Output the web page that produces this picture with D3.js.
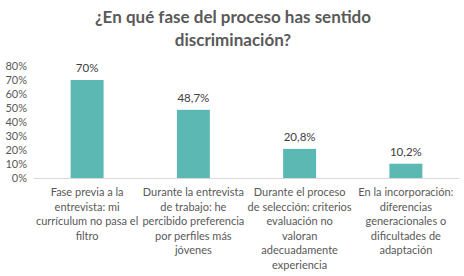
<!DOCTYPE html>
<html>
<head>
<meta charset="utf-8">
<script src="https://cdn.jsdelivr.net/npm/d3@7"></script>
<style>
  body { margin: 0; background: #fff; }
  svg { display: block; font-family: Lato, "Open Sans", sans-serif; }
</style>
</head>
<body>
<div id="chart"></div>
<script>
// data
const categories = ["Fase previa", "Durante la entrevista", "Durante el proceso", "En la incorporación"];
const values = [70, 48.7, 20.8, 10.2];
const valueLabels = ["70%", "48,7%", "20,8%", "10,2%"];
const labelLines = [
    ["Fase previa a la", "entrevista: mi", "currículum no pasa el", "filtro"],
    ["Durante la entrevista", "de trabajo: he", "percibido preferencia", "por perfiles más", "jóvenes"],
    ["Durante el proceso", "de selección: criterios", "evaluación  no", "valoran", "adecuadamente", "experiencia"],
    ["En la incorporación:", "diferencias", "generacionales o", "dificultades de", "adaptación"]
];
const yTicks = [0, 10, 20, 30, 40, 50, 60, 70, 80];
const titleLines = ["¿En qué fase del proceso has sentido", "discriminación?"];

const width = 464, height = 276;
const plot = { left: 34, right: 459, top: 66, bottom: 178 };

const svg = d3.select("#chart")
    .append("svg")
    .attr("width", width)
    .attr("height", height);

// title
svg.append("text")
    .attr("text-anchor", "middle")
    .style("font-size", "17px")
    .style("font-weight", "bold")
    .style("fill", "#595959")
    .selectAll("tspan")
    .data(titleLines)
    .enter()
    .append("tspan")
    .attr("x", 233)
    .attr("y", (d, i) => 23 + i * 23)
    .text(d => d);

const x = d3.scaleBand()
    .domain(categories)
    .range([plot.left, plot.right])
    .paddingInner(0.69)
    .paddingOuter(0.345);

const y = d3.scaleLinear()
    .domain([0, 80])
    .range([plot.bottom, plot.top]);

// y axis labels
const yAxis = d3.axisLeft(y)
    .tickValues(yTicks)
    .tickFormat(d => d + "%")
    .tickSize(0)
    .tickPadding(0);

svg.append("g")
    .attr("transform", `translate(27,0)`)
    .call(yAxis)
    .call(g => g.select(".domain").remove())
    .call(g => g.selectAll("text")
        .style("font-family", "Lato, sans-serif")
        .style("font-size", "11px")
        .style("fill", "#595959"));

// bars
svg.selectAll("rect.bar")
    .data(values)
    .enter()
    .append("rect")
    .attr("class", "bar")
    .attr("x", (d, i) => x(categories[i]))
    .attr("y", d => y(d))
    .attr("width", x.bandwidth())
    .attr("height", d => y(0) - y(d))
    .attr("fill", "#5cb8b2");

// baseline
svg.append("line")
    .attr("x1", plot.left)
    .attr("x2", plot.right)
    .attr("y1", y(0) + 0.5)
    .attr("y2", y(0) + 0.5)
    .attr("stroke", "#d9d9d9")
    .attr("stroke-width", 1);

// value labels
svg.selectAll("text.val")
    .data(values)
    .enter()
    .append("text")
    .attr("class", "val")
    .attr("x", (d, i) => x(categories[i]) + x.bandwidth() / 2)
    .attr("y", d => y(d) - 8)
    .attr("text-anchor", "middle")
    .style("font-size", "11.5px")
    .style("fill", "#404040")
    .text((d, i) => valueLabels[i]);

// category labels
categories.forEach((c, i) => {
    const cx = x(c) + x.bandwidth() / 2;
    svg.append("text")
        .attr("class", "cat")
        .attr("text-anchor", "middle")
        .style("font-size", "11px")
        .style("fill", "#595959")
        .selectAll("tspan")
        .data(labelLines[i])
        .enter()
        .append("tspan")
        .attr("x", cx)
        .attr("y", (t, j) => 196 + j * 14.6)
        .text(t => t);
});
</script>
</body>
</html>
